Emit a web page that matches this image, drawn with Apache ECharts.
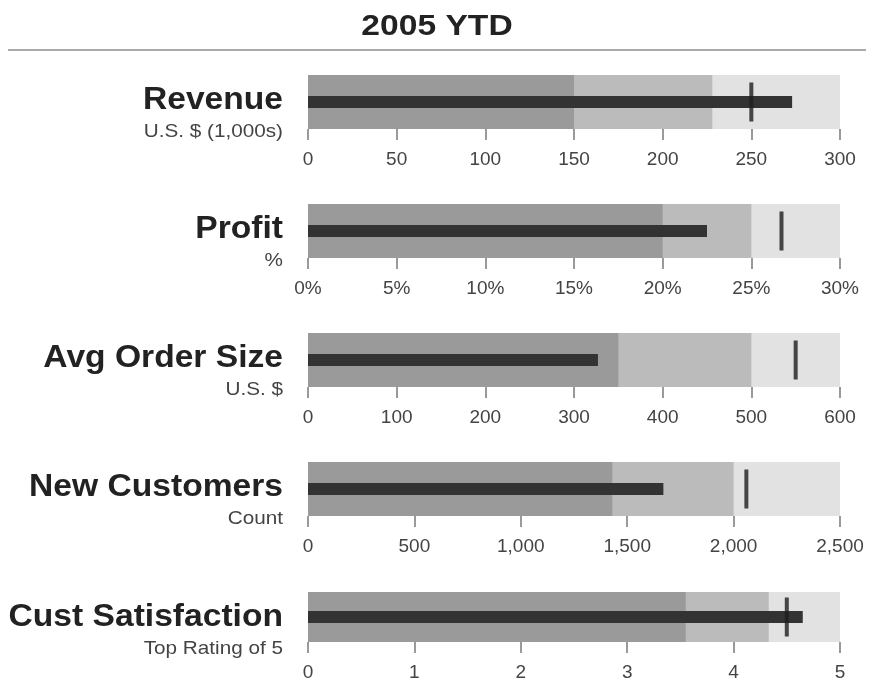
<!DOCTYPE html>
<html>
<head>
<meta charset="utf-8">
<script src="https://cdn.jsdelivr.net/npm/echarts@6/dist/echarts.min.js"></script>
<style>html,body{margin:0;padding:0;background:#fff}#c{width:872px;height:682px}</style>
</head>
<body>
<div id="c"></div>
<script>
const categories = ['Revenue', 'Profit', 'Avg Order Size', 'New Customers', 'Cust Satisfaction'];
const subtitles = ['U.S. $ (1,000s)', '%', 'U.S. $', 'Count', 'Top Rating of 5'];
const rangePoor = [150, 20, 350, 1430, 3.55];
const rangeSatisfactory = [228, 25, 500, 2000, 4.33];
const rangeGood = [300, 30, 600, 2500, 5];
const actualValues = [273, 22.5, 327, 1670, 4.65];
const targetValues = [250, 26.7, 550, 2060, 4.5];
const axisMax = [300, 30, 600, 2500, 5];
const axisInterval = [50, 5, 100, 500, 1];
const tickSuffix = ['', '%', '', '', ''];
const chartTitle = '2005 YTD';

const tops = [75, 204, 333, 462, 592];
const FONT = '"Liberation Sans", Arial, sans-serif';

const grids = [], xAxes = [], yAxes = [], series = [], graphics = [];
categories.forEach((cat, i) => {
  grids.push({ left: 308, width: 532, top: tops[i], height: 54 });
  xAxes.push({
    type: 'value', gridIndex: i, min: 0, max: axisMax[i], interval: axisInterval[i],
    axisLine: { show: false },
    axisTick: { show: true, length: 11, lineStyle: { color: '#9a9a9a', width: 2 } },
    splitLine: { show: false },
    axisLabel: {
      margin: 21, color: '#444', fontSize: 19, fontFamily: FONT,
      formatter: v => v.toLocaleString('en-US') + tickSuffix[i]
    }
  });
  yAxes.push({ type: 'category', gridIndex: i, data: [cat], show: false });
  yAxes.push({ type: 'category', gridIndex: i, data: [cat], show: false });
  const base = { type: 'bar', xAxisIndex: i, yAxisIndex: 2 * i, barWidth: 54, barGap: '-100%', silent: true };
  series.push(Object.assign({}, base, { data: [rangeGood[i]], itemStyle: { color: '#e2e2e2' } }));
  series.push(Object.assign({}, base, { data: [rangeSatisfactory[i]], itemStyle: { color: '#bbbbbb' } }));
  series.push(Object.assign({}, base, { data: [rangePoor[i]], itemStyle: { color: '#9a9a9a' } }));
  series.push({ type: 'bar', xAxisIndex: i, yAxisIndex: 2 * i + 1, barWidth: 12, silent: true,
    data: [actualValues[i]], itemStyle: { color: '#333' }, z: 3 });
  series.push({ type: 'scatter', xAxisIndex: i, yAxisIndex: 2 * i + 1, symbol: 'rect', symbolSize: [4, 39],
    silent: true, data: [[targetValues[i], cat]], itemStyle: { color: '#1e1e1e' }, z: 4 });
  graphics.push({ type: 'text', x: 283, y: tops[i] + 25, scaleX: 1.05, style: { text: cat, align: 'right', verticalAlign: 'middle',
    font: 'bold 32px ' + FONT, fill: '#222' } });
  graphics.push({ type: 'text', x: 283, y: tops[i] + 57, scaleX: 1.09, style: { text: subtitles[i], align: 'right', verticalAlign: 'middle',
    font: '19px ' + FONT, fill: '#444' } });
});
graphics.push({ type: 'text', x: 437, y: 27, scaleX: 1.12, style: { text: chartTitle, align: 'center', verticalAlign: 'middle',
  font: 'bold 30px ' + FONT, fill: '#222' } });
graphics.push({ type: 'line', shape: { x1: 8, y1: 50, x2: 866, y2: 50 }, style: { stroke: '#aaa', lineWidth: 2 } });

const chart = echarts.init(document.getElementById('c'));
chart.setOption({
  animation: false,
  grid: grids, xAxis: xAxes, yAxis: yAxes, series: series, graphic: graphics
});
</script>
</body>
</html>
